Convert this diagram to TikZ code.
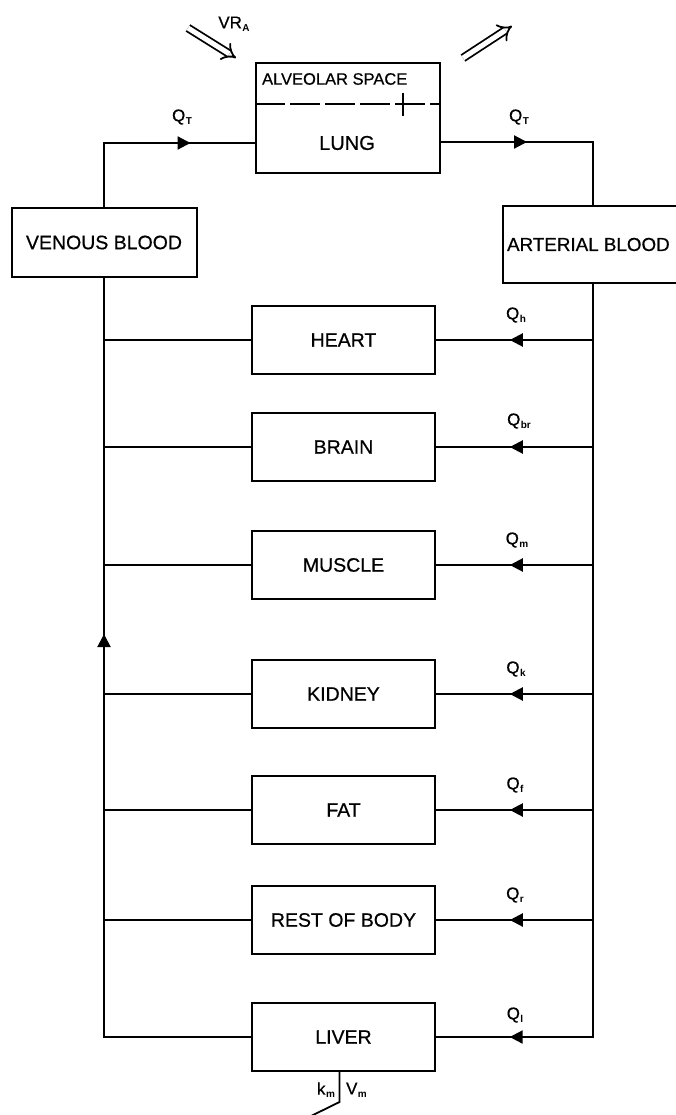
\documentclass[tikz,border=0pt]{standalone}
\usepackage{fontspec}
\setmainfont{Liberation Sans}[UprightFeatures={FakeBold=0.6}]
\usetikzlibrary{arrows.meta,calc,decorations.markings}
\newcommand{\Qs}[1]{Q\kern0.5pt\raisebox{-3pt}{\fontsize{10}{10}\selectfont\bfseries #1}}
\begin{document}
\begin{tikzpicture}[x=1pt,y=-1pt,line width=2.2pt,
  box/.style={draw,line width=2pt,inner sep=0pt,font=\fontsize{19.5}{19.5}\selectfont},
  organ/.style={box,minimum width=183pt,minimum height=68pt},
  lbl/.style={font=\fontsize{17}{17}\selectfont,inner sep=0pt},
  arrowat/.style={postaction={decorate},decoration={markings,mark=at position #1 with {\arrow{Triangle[length=13pt,width=13pt]}}}},
  dbl/.style={double,double distance=5pt,line width=1.8pt,-{Implies[length=9pt]}}]
\useasboundingbox (0,0) rectangle (675,1115);
% lung
\node[box,minimum width=184pt,minimum height=110pt] (lung) at (348,118) {};
\node[lbl,anchor=west,font=\fontsize{16.5}{16.5}\selectfont] (alv) at (261,79) {ALVEOLAR SPACE};
\node[lbl,font=\fontsize{20}{20}\selectfont] (lungt) at (347,143) {LUNG};
\coordinate (dl) at (lung.west |- 0,104);
\coordinate (dr) at (lung.east |- 0,104);
\draw[line width=1.6pt,dash pattern=on 30pt off 5pt] (dl) -- (dr);
\coordinate (tk1) at (403,93);
\coordinate (tk2) at (403,116);
\draw[line width=1.8pt] (tk1) -- (tk2);
% blood
\node[box,minimum width=185pt,minimum height=69pt] (ven) at (104,242.5) {VENOUS BLOOD};
\node[box,minimum width=180pt,minimum height=77pt] (art) at (593,244.5) {};
\node[lbl,anchor=west,font=\fontsize{18.8}{18.8}\selectfont] (artt) at (506,244.5) {ARTERIAL BLOOD};
% organs
\node[organ] (heart) at (343.5,340) {HEART};
\node[organ] (brain) at (343.5,447) {BRAIN};
\node[organ] (muscle) at (343.5,565) {MUSCLE};
\node[organ] (kidney) at (343.5,694) {KIDNEY};
\node[organ] (fat) at (343.5,810) {FAT};
\node[organ] (rest) at (343.5,920) {REST OF BODY};
\node[organ] (liver) at (343.5,1037) {LIVER};
% lung connections
\coordinate (lin) at (lung.west |- 0,143);
\coordinate (lout) at (lung.east |- 0,142);
\draw[arrowat=0.70] (ven.north) |- (lin);
\draw[arrowat=0.40] (lout) -| (art.north);
\node[lbl] (qtl) at (182,117) {\Qs{T}};
\node[lbl] (qtr) at (519,117) {\Qs{T}};
% ventilation
\coordinate (v1) at (188,28);
\coordinate (v2) at (236,58);
\coordinate (v3) at (463,58);
\coordinate (v4) at (512,26);
\draw[dbl] (v1) -- (v2);
\draw[dbl] (v3) -- (v4);
\node[lbl] (vra) at (234,24) {VR\kern0.5pt\raisebox{-3pt}{\fontsize{10}{10}\selectfont\bfseries A}};
% venous return
\draw[arrowat=0.607] (liver.west) -| (ven.south);
\foreach \o in {heart,brain,muscle,kidney,fat,rest}{
  \draw (\o.west) -- (\o.west -| ven.south);
  \draw[arrowat=0.53] (\o.east -| art.south) -- (\o.east);
}
\draw[arrowat=0.919] (art.south) |- (liver.east);
% flow labels
\node[lbl] (qh) at (516,315) {\Qs{h}};
\node[lbl] (qbr) at (519,421) {\Qs{br}};
\node[lbl] (qm) at (517,540) {\Qs{m}};
\node[lbl] (qk) at (516,669) {\Qs{k}};
\node[lbl] (qf) at (515,785) {\Qs{f}};
\node[lbl] (qr) at (515,895) {\Qs{r}};
\node[lbl] (ql) at (515,1015) {\Qs{l}};
% metabolism
\coordinate (m1) at ($(liver.south)+(-4,0)$);
\coordinate (m2) at ($(liver.south)+(-4,30)$);
\coordinate (m3) at (309,1117);
\draw[line width=1.8pt] (m1) -- (m2) -- (m3);
\node[lbl,anchor=east] (km) at (336,1090) {k\kern0.5pt\raisebox{-3pt}{\fontsize{10}{10}\selectfont\bfseries m}};
\node[lbl,anchor=west] (vm) at (345,1090) {V\kern0.5pt\raisebox{-3pt}{\fontsize{10}{10}\selectfont\bfseries m}};
\end{tikzpicture}
\end{document}
